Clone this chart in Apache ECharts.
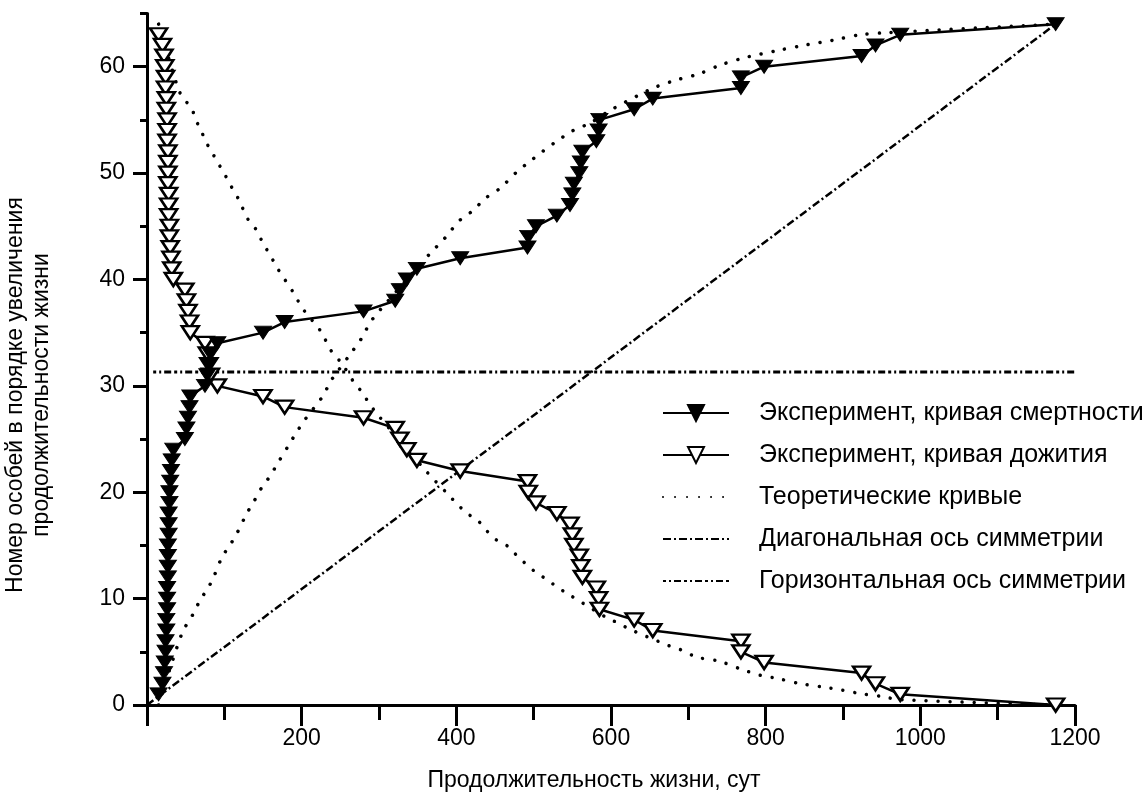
<!DOCTYPE html>
<html>
<head>
<meta charset="utf-8">
<script src="https://cdn.jsdelivr.net/npm/echarts@6/dist/echarts.min.js"></script>
<style>
html, body { margin: 0; padding: 0; background: #fff; }
#chart { width: 1147px; height: 794px; }
</style>
</head>
<body>
<div id="chart"></div>
<script>
// lifespan of every individual, sorted ascending (days)
const lifespans = [15, 20, 22, 23, 24, 24, 25, 25, 26, 26, 26, 27, 27, 27, 27, 28, 28, 28, 29, 29, 30, 31, 32, 34,
    49, 51, 53, 55, 56, 75, 78, 80, 82, 91, 150, 178, 280, 321, 327, 336, 349, 405,
    492, 493, 503, 530, 547, 550, 552, 559, 561, 563, 581, 584, 585, 630, 654,
    768, 768, 798, 924, 942, 974, 1175];
const mortalityRank = [1, 2, 3, 4, 5, 6, 7, 8, 9, 10, 11, 12, 13, 14, 15, 16, 17, 18, 19, 20, 21, 22, 23, 24,
    25, 26, 27, 28, 29, 30, 31, 32, 33, 34, 35, 36, 37, 38, 39, 40, 41, 42,
    43, 44, 45, 46, 47, 48, 49, 50, 51, 52, 53, 54, 55, 56, 57,
    58, 59, 60, 61, 62, 63, 64];
const survivalCount = [63, 62, 61, 60, 59, 58, 57, 56, 55, 54, 53, 52, 51, 50, 49, 48, 47, 46, 45, 44, 43, 42, 41, 40,
    39, 38, 37, 36, 35, 34, 33, 32, 31, 30, 29, 28, 27, 26, 25, 24, 23, 22,
    21, 20, 19, 18, 17, 16, 15, 14, 13, 12, 11, 10, 9, 8, 7,
    6, 5, 4, 3, 2, 1, 0];

// theoretical curves
const theoryMortX = [15, 45, 60, 69, 79, 86, 97, 107, 116, 129, 138, 148, 159, 168, 183, 194, 204, 228, 237, 243,
    265, 276, 282, 291, 301, 368, 383, 392, 405, 422, 437, 457, 478, 495, 511, 526, 551, 573, 599,
    655, 687, 713, 743, 776, 814, 849, 888, 922, 957, 1175];
const theoryMortY = [0, 6.7, 8.6, 9.9, 11, 12, 13.9, 15, 16.1, 18, 19.1, 20.4, 21.5, 22.6, 24.4, 25.7, 26.8, 29.1, 30.4, 31,
    33.2, 34.3, 35.1, 36.2, 37.1, 42.6, 43.7, 44.5, 45.6, 46.5, 47.6, 48.6, 50.1, 51.1, 52, 52.8, 54, 54.7, 55.9,
    58, 58.8, 59.3, 60.2, 60.9, 61.5, 62, 62.5, 63, 63.2, 64];
const theorySurvX = [15, 40, 47, 58, 62, 69, 75, 82, 90, 97, 105, 110, 118, 131, 142, 148, 155, 163, 170, 189, 196, 204,
    224, 239, 252, 267, 278, 286, 297, 362, 388, 401, 414, 427, 439, 452, 467, 480, 491, 504, 517, 530, 543,
    597, 610, 622, 674, 690, 711, 741, 767, 793, 815, 845, 873, 899, 920, 950, 974, 1175];
const theorySurvY = [64, 58, 57, 56.1, 55.1, 54.2, 53.1, 52.2, 51.2, 50.3, 49.3, 48.6, 47.6, 45.6, 44.6, 43.7, 42.8, 41.8, 40.9, 38.8, 37.9, 37,
    35.2, 33.2, 32.1, 30.4, 29.4, 28.5, 27.4, 21.9, 19.9, 18.9, 18, 17.4, 16.4, 15.5, 14.9, 13.9, 13.2, 12.4, 11.8, 11.1, 10.5,
    8.1, 7.7, 7.2, 5.6, 5.2, 4.5, 4.1, 3.4, 2.8, 2.5, 2, 1.7, 1.4, 1.1, 0.8, 0.5, 0];

// symmetry axes
const diagX = [0, 1175];
const diagY = [0, 64];
const horizX = [8, 1226];
const horizY = [31.3, 31.3];

// axis ticks
const yLabelValues = [0, 10, 20, 30, 40, 50, 60];
const yMinorValues = [5, 15, 25, 35, 45, 55, 65];

const seriesNames = [
    'Эксперимент, кривая смертности',
    'Эксперимент, кривая дожития',
    'Теоретические кривые',
    'Диагональная ось симметрии',
    'Горизонтальная ось симметрии'
];

const FONT = "'Liberation Sans', Arial, Helvetica, sans-serif";
const zip = (xs, ys) => xs.map((x, i) => [x, ys[i]]);
const NO_FILL = 'rgba(0,0,0,0)';

const chart = echarts.init(document.getElementById('chart'), null, { renderer: 'canvas' });

const axisLine = { show: true, lineStyle: { color: '#000', width: 3 } };

const option = {
    animation: false,
    backgroundColor: '#fff',
    grid: { left: 147, right: 72, top: 13.5, bottom: 89, outerBoundsMode: 'none' },
    xAxis: {
        type: 'value',
        min: 0,
        max: 1200,
        interval: 200,
        axisLine: axisLine,
        axisTick: { show: true, length: 21, lineStyle: { color: '#000', width: 3 } },
        minorTick: { show: true, splitNumber: 2, length: 15, lineStyle: { color: '#000', width: 3 } },
        splitLine: { show: false },
        axisLabel: {
            margin: 22, fontSize: 23, color: '#000', fontFamily: FONT,
            formatter: v => (v === 0 ? '' : String(v))
        }
    },
    yAxis: [{
        type: 'value',
        min: 0,
        max: 65,
        axisLine: axisLine,
        axisTick: { show: true, length: 14, customValues: yLabelValues, lineStyle: { color: '#000', width: 3 } },
        splitLine: { show: false },
        axisLabel: { margin: 22, fontSize: 23, color: '#000', fontFamily: FONT, customValues: yLabelValues }
    }, {
        type: 'value',
        min: 0,
        max: 65,
        position: 'left',
        axisLine: { show: false },
        axisTick: { show: true, length: 7, customValues: yMinorValues, lineStyle: { color: '#000', width: 3 } },
        splitLine: { show: false },
        axisLabel: { show: false }
    }],
    legend: {
        orient: 'vertical',
        left: 662,
        top: 400,
        padding: 0,
        itemWidth: 66,
        itemHeight: 20,
        itemGap: 16,
        selectedMode: false,
        data: seriesNames,
        textStyle: { fontSize: 25, color: '#000', fontFamily: FONT, lineHeight: 26, padding: [0, 0, 0, 25] }
    },
    graphic: [{
        type: 'text',
        x: 594, y: 781,
        style: {
            text: 'Продолжительность жизни, сут',
            font: '23px ' + FONT, fill: '#000', align: 'center', verticalAlign: 'middle'
        }
    }, {
        type: 'text',
        x: 16, y: 395,
        rotation: Math.PI / 2,
        style: {
            text: 'Номер особей в порядке увеличения',
            font: '23px ' + FONT, fill: '#000', align: 'center', verticalAlign: 'middle'
        }
    }, {
        type: 'text',
        x: 42, y: 395,
        rotation: Math.PI / 2,
        style: {
            text: 'продолжительности жизни',
            font: '23px ' + FONT, fill: '#000', align: 'center', verticalAlign: 'middle'
        }
    }],
    series: [{
        name: seriesNames[3],
        type: 'line',
        data: zip(diagX, diagY),
        symbol: 'none',
        lineStyle: { color: '#000', width: 2.5, type: [8, 3, 2, 3] },
        itemStyle: { color: NO_FILL },
        z: 1
    }, {
        name: seriesNames[4],
        type: 'line',
        data: zip(horizX, horizY),
        symbol: 'none',
        clip: false,
        lineStyle: { color: '#000', width: 3, type: [3, 3, 2, 3, 7, 3] },
        itemStyle: { color: NO_FILL },
        z: 1
    }, {
        name: seriesNames[2],
        type: 'line',
        data: zip(theoryMortX, theoryMortY),
        symbol: 'none',
        smooth: 0.3,
        lineStyle: { color: '#000', width: 3.5, type: [0.01, 12], cap: 'round' },
        itemStyle: { color: NO_FILL },
        z: 2
    }, {
        name: seriesNames[2],
        type: 'line',
        data: zip(theorySurvX, theorySurvY),
        symbol: 'none',
        smooth: 0.3,
        lineStyle: { color: '#000', width: 3.5, type: [0.01, 12], cap: 'round' },
        itemStyle: { color: NO_FILL },
        z: 2
    }, {
        name: seriesNames[1],
        type: 'line',
        data: zip(lifespans, survivalCount),
        symbol: 'triangle',
        symbolSize: [17, 13],
        symbolRotate: 180,
        showAllSymbol: true,
        lineStyle: { color: '#000', width: 2.5 },
        itemStyle: { color: '#fff', borderColor: '#000', borderWidth: 2.5 },
        z: 3
    }, {
        name: seriesNames[0],
        type: 'line',
        data: zip(lifespans, mortalityRank),
        symbol: 'triangle',
        symbolSize: [17, 13],
        symbolRotate: 180,
        showAllSymbol: true,
        lineStyle: { color: '#000', width: 2.5 },
        itemStyle: { color: '#000', borderColor: '#000', borderWidth: 1 },
        z: 4
    }]
};

chart.setOption(option);
</script>
</body>
</html>
